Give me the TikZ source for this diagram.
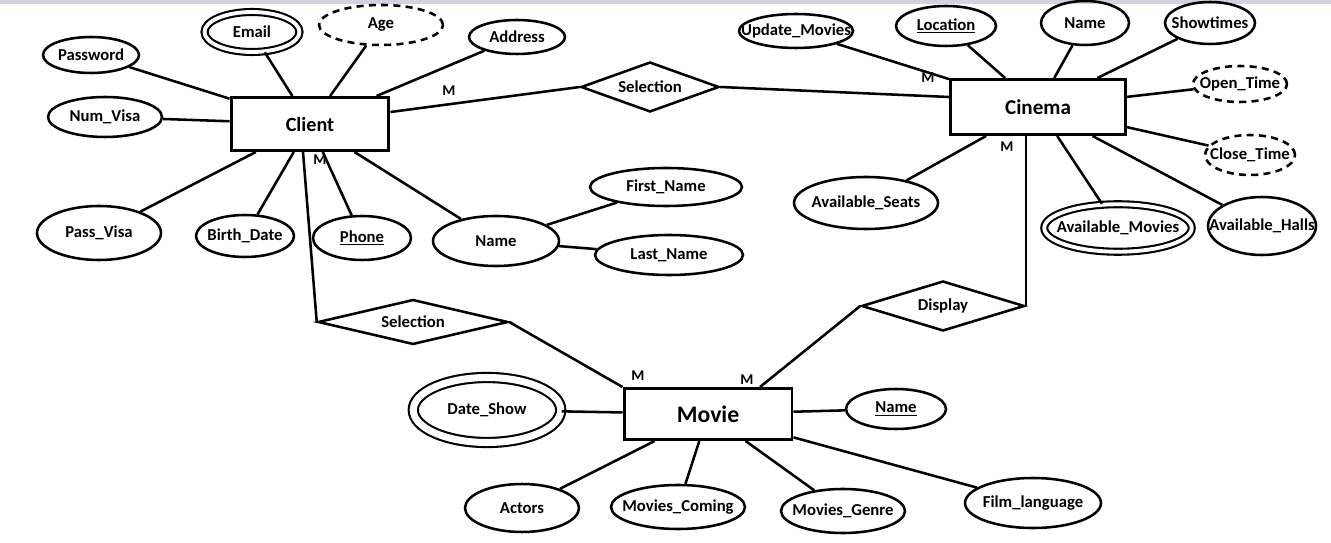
\documentclass[tikz,border=0pt]{standalone}
\usepackage{fontspec}
\setmainfont{Carlito}
\usetikzlibrary{shapes.geometric}
\begin{document}
\begin{tikzpicture}[x=0.02cm, y=-0.02cm, line width=1.45pt,
  entity/.style={draw, rectangle, line width=1.7pt, font=\bfseries},
  attr/.style={draw, ellipse, inner sep=0pt, font=\bfseries\fontsize{9.5}{10}\selectfont,
    execute at begin node={\hbox to 0pt\bgroup\hss}, execute at end node={\hss\egroup}},
  multi/.style={attr, double, double distance=2.2pt, line width=1.2pt},
  derived/.style={attr, dashed, dash pattern=on 4pt off 3pt},
  rel/.style={draw, diamond, inner sep=0pt, font=\bfseries\fontsize{9.5}{10}\selectfont},
  card/.style={font=\bfseries\fontsize{8.5}{9}\selectfont}]
\useasboundingbox (0,0) rectangle (1331,543);
\fill[blue!15!gray!30] (0,0) rectangle (1331,4);
% Entidades
\node[entity, minimum width=3.16cm, minimum height=1.06cm, font=\bfseries\fontsize{11.5}{13}\selectfont] (client) at (310,124) {Client};
\node[entity, minimum width=3.5cm, minimum height=1.1cm, font=\bfseries\fontsize{12}{14}\selectfont] (cinema) at (1038,107) {Cinema};
\node[entity, minimum width=3.36cm, minimum height=1.02cm, font=\bfseries\fontsize{13.5}{15}\selectfont] (movie) at (708,414) {Movie};
% Relaciones
\node[rel, aspect=2.8, minimum width=2.76cm, minimum height=1cm] (selA) at (650,87) {Selection};
\node[rel, aspect=4.2, minimum width=3.8cm, minimum height=0.9cm] (selB) at (413,322) {Selection};
\node[rel, aspect=3.2, minimum width=3.26cm, minimum height=1cm] (disp) at (943,306) {Display};
% Atributos de Client
\node[attr, minimum width=1.92cm, minimum height=0.72cm] (password) at (91,55) {Password};
\node[multi, minimum width=1.9cm, minimum height=0.8cm] (email) at (252,32) {Email};
\node[derived, minimum width=2.48cm, minimum height=0.8cm] (age) at (381,25) {Age};
\node[attr, minimum width=1.92cm, minimum height=0.68cm] (address) at (517,37) {Address};
\node[attr, minimum width=2.28cm, minimum height=0.8cm] (numvisa) at (105,117) {Num\_Visa};
\node[attr, minimum width=2.48cm, minimum height=1.08cm] (passvisa) at (99,233) {Pass\_Visa};
\node[attr, minimum width=1.96cm, minimum height=0.84cm] (birth) at (245,236) {Birth\_Date};
\node[attr, minimum width=1.96cm, minimum height=0.88cm] (phone) at (362,238) {\underline{Phone}};
\node[attr, minimum width=2.52cm, minimum height=1cm] (cname) at (496,241) {Name};
\node[attr, minimum width=3.04cm, minimum height=0.76cm] (first) at (666,187) {First\_Name};
\node[attr, minimum width=2.96cm, minimum height=0.8cm] (last) at (669,255) {Last\_Name};
% Atributos de Cinema
\node[attr, minimum width=2.28cm, minimum height=0.68cm] (update) at (796,31) {Update\_Movies};
\node[attr, minimum width=2cm, minimum height=0.8cm] (location) at (946,26) {\underline{Location}};
\node[attr, minimum width=1.76cm, minimum height=0.88cm] (kname) at (1085,23) {Name};
\node[attr, minimum width=1.8cm, minimum height=0.84cm] (showtimes) at (1210,23) {Showtimes};
\node[derived, minimum width=1.88cm, minimum height=0.72cm] (open) at (1240,84) {Open\_Time};
\node[derived, minimum width=1.8cm, minimum height=0.8cm] (close) at (1250,155) {Close\_Time};
\node[attr, minimum width=2.88cm, minimum height=1.04cm] (seats) at (866,203) {Available\_Seats};
\node[multi, minimum width=2.95cm, minimum height=0.95cm] (avmovies) at (1118,228) {Available\_Movies};
\node[attr, minimum width=2.16cm, minimum height=1.16cm] (halls) at (1262,226) {Available\_Halls};
% Atributos de Movie
\node[multi, double distance=4pt, minimum width=2.95cm, minimum height=1.3cm] (dateshow) at (487,410) {Date\_Show};
\node[attr, minimum width=2cm, minimum height=0.8cm] (mname) at (896,409) {\underline{Name}};
\node[attr, minimum width=2.28cm, minimum height=0.96cm] (actors) at (522,508) {Actors};
\node[attr, minimum width=2.68cm, minimum height=0.88cm] (coming) at (678,507) {Movies\_Coming};
\node[attr, minimum width=2.48cm, minimum height=0.88cm] (genre) at (843,511) {Movies\_Genre};
\node[attr, minimum width=2.72cm, minimum height=1cm] (lang) at (1033,503) {Film\_language};
% Lineas de atributos
\foreach \a in {password, email, age, address, numvisa, passvisa, birth, phone, cname}
  \draw (\a) -- (client);
\draw (cname) -- (first);
\draw (cname) -- (last);
\foreach \a in {update, location, kname, showtimes, open, close, seats, avmovies, halls}
  \draw (\a) -- (cinema);
\foreach \a in {dateshow, mname, actors, coming, genre, lang}
  \draw (\a) -- (movie);
% Relaciones
\draw ([yshift=0.24cm]client.east) -- (selA.west);
\draw (selA.east) -- ([yshift=0.2cm]cinema.west);
\draw ([xshift=-0.14cm]client.south) -- (selB.west);
\draw (selB.east) -- (movie.north west);
\draw (disp.east) -- (disp.east |- cinema.south);
\draw (disp.west) -- ([xshift=1.04cm]movie.north);
% Cardinalidades
\node[card] (m1) at (449,91) {M};
\node[card] (m2) at (928,78) {M};
\node[card] (m3) at (320,160) {M};
\node[card] (m4) at (1007,147) {M};
\node[card] (m5) at (638,376) {M};
\node[card] (m6) at (747,380) {M};
\end{tikzpicture}
\end{document}
